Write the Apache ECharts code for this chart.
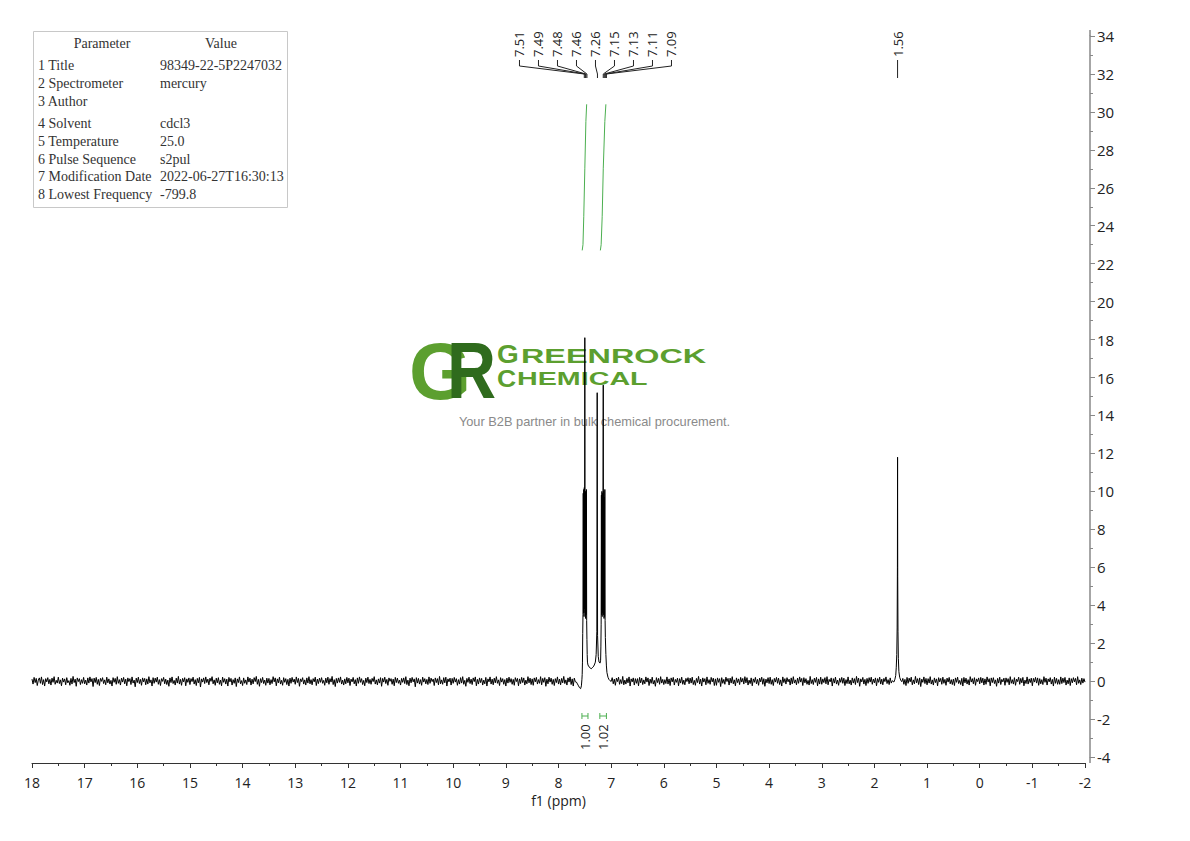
<!DOCTYPE html>
<html>
<head>
<meta charset="utf-8">
<script src="https://cdn.jsdelivr.net/npm/echarts@6/dist/echarts.min.js"></script>
<style>html,body{margin:0;padding:0;background:#fff}#c{width:1190px;height:841px}</style>
</head>
<body>
<div id="c"></div>
<script>
// ---------------- DATA ----------------
const xAxisMinPpm = -2, xAxisMaxPpm = 18;
const yAxisMin = -4, yAxisMax = 34;

// baseline noise sampled on the spectrum grid (integer readings; one unit = noiseUnit intensity)
const noiseStartPpm = 18.0;
const noiseStepPpm = 0.02;
const noiseUnit = 0.013;
const noiseReadings = [
8,-12,15,-6,11,-18,4,13,-9,17,-14,6,-20,10,-3,14,-11,7,-16,12,-5,18,-13,3,-8,
16,-10,5,-19,12,-4,9,-15,14,-7,2,-17,11,-12,19,-6,8,-21,13,-2,10,-14,6,-9,15,
-11,4,-16,13,-8,17,-3,10,-22,12,-6,15,-13,7,-18,11,-1,14,-10,5,-15,16,-7,9,-12,
3,-20,14,-5,11,-13,18,-9,6,-16,12,-4,15,-11,8,-19,13,-2,10,-14,17,-8,4,-23,12,
-6,16,-10,7,-17,13,-3,11,-15,9,-12,18,-7,5,-20,14,-9,12,-4,16,-13,6,-18,10,-1,
15,-11,8,-14,4,-21,13,-6,17,-10,3,-16,12,-8,19,-12,7,-17,11,-3,14,-19,9,-5,13,
-14,10,-2,16,-12,6,-18,11,-7,15,-24,9,-4,13,-10,17,-6,8,-15,12,-1,18,-11,5,-17,
12,-7,14,-13,4,-19,16,-5,10,-12,8,-20,15,-3,11,-16,6,-9,13,-22,9,-6,17,-11,2,
-18,13,-9,5,-14,17,-4,12,-16,8,-11,14,-2,19,-13,7,-21,10,-6,15,-10,4,-17,12,-8,
11,-15,6,-10,18,-3,13,-19,9,-7,16,-12,3,-17,14,-5,10,-14,7,-20,12,-9,15,-4,8,
-13,17,-6,11,-21,9,-2,14,-12,5,-16,13,-8,18,-11,6,-15,10,-3,16,-18,8,-10,12,-5,
14,-9,3,-17,12,-7,16,-13,10,-4,19,-14,6,-22,11,-8,13,-5,17,-12,4,-16,9,-11,15,
-7,12,-18,8,-3,15,-11,6,-20,13,-9,17,-5,10,-14,3,-19,12,-6,16,-10,7,-13,11,-2,
18,-12,5,-15,9,-8,14,-21,11,-4,16,-10,7,-17,13,-1,10,-13,8,-19,15,-6,12,-9,4,
-16,11,-5,13,-10,18,-14,4,-19,12,-7,15,-3,9,-23,14,-8,11,-12,6,-17,16,-4,10,-11,
7,-14,17,-9,12,-2,8,-18,13,-6,10,-15,19,-11,5,-13,14,-7,16,-20,9,-3,12,-16,11,
-9,15,-4,10,-17,6,-12,14,-8,18,-13,3,-21,11,-5,16,-10,8,-14,13,-2,17,-19,7,-12,
13,-6,11,-16,4,-11,15,-20,9,-3,17,-12,8,-15,12,-7,18,-9,5,-18,14,-4,10,-13,6,
-20,12,-8,16,-5,10,-13,7,-17,14,-2,11,-19,9,-10,15,-6,13,-16,4,-11,18,-7,12,-14,
9,-17,13,-3,15,-12,6,-9,18,-15,11,-5,14,-21,8,-11,16,-4,12,-13,7,-18,10,-6,17,
-12,8,-15,11,-7,19,-10,5,-16,13,-4,17,-14,9,-20,12,-3,15,-11,6,-17,14,-8,10,-2,
16,-13,7,-19,10,-5,14,-11,3,-16,12,-9,18,-6,11,-22,13,-4,9,-14,16,-10,5,-18,12,
-5,14,-11,8,-17,12,-2,16,-13,6,-10,19,-15,4,-12,11,-7,17,-20,9,-3,13,-16,10,-9,
10,-19,15,-7,12,-14,5,-11,17,-4,13,-18,8,-9,16,-12,3,-21,14,-6,11,-13,18,-8,7,
-14,6,-10,17,-12,9,-18,13,-3,15,-16,7,-5,12,-19,10,-8,16,-13,4,-15,11,-2,14,-11,
12,-8,16,-14,3,-17,11,-6,19,-12,8,-20,13,-4,10,-15,17,-9,6,-13,15,-3,12,-18,9,
-17,13,-5,10,-22,14,-9,7,-13,16,-2,11,-16,12,-8,18,-11,5,-19,13,-6,9,-14,15,-4,
11,-12,18,-7,14,-16,4,-10,13,-19,9,-5,15,-11,7,-17,12,-3,16,-13,10,-21,8,-7,14,
-10,16,-13,6,-18,11,-4,15,-9,12,-14,5,-20,17,-6,10,-12,14,-3,8,-16,13,-11,18,-8,
5,-15,12,-9,17,-4,11,-18,14,-7,10,-13,3,-16,19,-10,6,-14,12,-5,15,-19,9,-12,16,
-13,9,-6,14,-11,18,-15,7,-3,13,-20,10,-8,16,-12,4,-17,11,-5,15,-9,12,-18,6,-10,
17,-11,4,-16,13,-8,10,-14,19,-6,12,-21,9,-3,15,-12,7,-18,11,-9,14,-4,16,-13,8,
-7,13,-19,10,-5,16,-12,8,-15,11,-2,17,-10,6,-14,13,-8,18,-16,5,-11,14,-6,9,-20,
14,-4,11,-13,7,-18,15,-9,12,-3,16,-15,5,-11,19,-7,10,-14,13,-22,8,-5,17,-10,11,
-15,10,-8,18,-12,5,-16,13,-6,9,-19,14,-3,11,-13,16,-9,7,-17,12,-4,15,-11,6,-14,
8,-18,13,-5,16,-10,3,-14,11,-20,15,-7,12,-12,6,-16,18,-4,10,-11,14,-17,9,-2,13,
-11,15,-7,12,-16,9,-13,17,-4,10,-19,13,-6,14,-10,5,-21,11,-8,16,-14,7,-3,12,-17,
13,-5,10,-15,18,-9,6,-12,14,-17,8,-2,16,-13,11,-7,15,-19,4,-10,17,-12,9,-6,12,
-19,11,-4,15,-8,13,-17,10,-11,6,-14,18,-5,12,-16,9,-3,14,-12,7,-20,16,-9,11,-13,
6,-13,17,-10,12,-6,15,-16,4,-11,13,-18,10,-7,14,-3,11,-15,18,-9,5,-14,12,-8,10,
-4
];

// aromatic multiplets (7.51-7.46, CDCl3 7.26, 7.15-7.09): [ppm, intensity]
const aromaticPeaks = [
[7.66,-0.05],[7.64,-0.15],[7.62,-0.25],[7.60,-0.35],[7.58,-0.40],[7.565,-0.25],[7.555,0.10],[7.55,0.35],
[7.545,1.0],[7.54,2.5],[7.535,3.5],[7.53,9.9],[7.525,3.6],[7.52,10.1],[7.515,3.4],[7.51,10.2],
[7.505,3.8],[7.50,18.1],[7.495,3.6],[7.49,10.0],[7.485,3.3],[7.48,9.8],[7.475,3.5],[7.47,10.1],
[7.465,3.2],[7.46,2.2],[7.455,1.4],[7.45,1.0],[7.44,0.85],[7.42,0.75],[7.40,0.70],[7.38,0.65],
[7.36,0.70],[7.34,0.75],[7.32,0.85],[7.30,1.0],[7.285,1.4],[7.272,2.6],[7.265,15.2],[7.258,2.4],
[7.245,1.3],[7.23,1.0],[7.21,0.95],[7.20,1.1],[7.195,1.8],[7.19,3.0],[7.185,9.8],[7.18,3.5],
[7.175,10.0],[7.17,3.4],[7.165,9.9],[7.16,3.6],[7.15,15.6],[7.145,3.5],[7.14,10.0],[7.135,3.3],
[7.13,9.7],[7.125,3.4],[7.12,10.1],[7.115,3.2],[7.11,2.3],[7.10,1.4],[7.09,0.8],[7.08,0.45],
[7.06,0.2],[7.04,0.08],[7.02,0.02],[7.00,-0.02]
];

// water singlet at 1.56 ppm
const waterPeak = [
[1.66,0.02],[1.63,-0.05],[1.61,0.10],[1.595,0.30],[1.585,0.70],[1.575,1.4],[1.568,2.8],[1.563,6.0],
[1.560,11.8],[1.557,5.5],[1.552,2.6],[1.545,1.2],[1.535,0.5],[1.52,0.2],[1.50,0.05],[1.48,-0.03]
];

// integral curves (green)
const integralCurve1 = [[7.55,22.7],[7.535,23.0],[7.52,24.5],[7.50,27.0],[7.48,29.5],[7.465,30.4]];
const integralCurve2 = [[7.205,22.7],[7.19,23.0],[7.17,24.5],[7.15,27.0],[7.12,29.5],[7.10,30.4]];
const integralRanges = [[7.555,7.44],[7.215,7.09]];
const integralValues = ['1.00','1.02'];

// peak picking labels
const aromaticPeakLabels = ['7.51','7.49','7.48','7.46','7.26','7.15','7.13','7.11','7.09'];
const waterPeakLabels = ['1.56'];

// parameter table
const paramNames = ['1 Title','2 Spectrometer','3 Author','4 Solvent','5 Temperature','6 Pulse Sequence','7 Modification Date','8 Lowest Frequency'];
const paramValues = ['98349-22-5P2247032','mercury','','cdcl3','25.0','s2pul','2022-06-27T16:30:13','-799.8'];

// ---------------- BUILD ----------------
const peakWindows = [aromaticPeaks, waterPeak].map(p => [p[p.length - 1][0], p[0][0]]);
const spectrum = [];
noiseReadings.forEach((v, i) => {
  const x = +(noiseStartPpm - i * noiseStepPpm).toFixed(3);
  if (peakWindows.some(w => x >= w[0] && x <= w[1])) return;
  spectrum.push([x, v * noiseUnit]);
});
aromaticPeaks.forEach(p => spectrum.push(p));
waterPeak.forEach(p => spectrum.push(p));
spectrum.sort((a, b) => b[0] - a[0]);

const FONT = "'Open Sans', 'Noto Sans', sans-serif";
const GREEN = '#4caf50';

const chart = echarts.init(document.getElementById('c'), null, {renderer: 'svg', width: 1190, height: 841});
const option = {
  animation: false,
  backgroundColor: '#ffffff',
  grid: {left: 32, right: 105, top: 36, bottom: 84, containLabel: false, outerBoundsMode: 'none'},
  xAxis: {
    type: 'value', min: xAxisMinPpm, max: xAxisMaxPpm, interval: 1, inverse: true, offset: 6,
    name: 'f1 (ppm)', nameLocation: 'middle', nameGap: 28,
    nameTextStyle: {fontSize: 14, color: '#222', fontFamily: FONT},
    axisLine: {show: true, onZero: false, lineStyle: {color: '#333', width: 1}},
    axisTick: {show: true, inside: false, length: 5, lineStyle: {color: '#333', width: 1}},
    minorTick: {show: true, splitNumber: 2, length: 3, lineStyle: {color: '#333', width: 1}},
    axisLabel: {fontSize: 14, color: '#222', margin: 12, fontFamily: FONT},
    splitLine: {show: false}, minorSplitLine: {show: false}
  },
  yAxis: {
    type: 'value', position: 'right', min: yAxisMin, max: yAxisMax, interval: 2, offset: 5,
    axisLine: {show: true, onZero: false, lineStyle: {color: '#888', width: 1.5}},
    axisTick: {show: true, inside: false, length: 5, lineStyle: {color: '#888', width: 1}},
    minorTick: {show: true, splitNumber: 2, length: 3, lineStyle: {color: '#888', width: 1}},
    axisLabel: {fontSize: 15, color: '#222', margin: 7, fontFamily: FONT},
    splitLine: {show: false}, minorSplitLine: {show: false}
  },
  series: [
    {type: 'line', data: spectrum, showSymbol: false, symbol: 'none', silent: true, z: 5,
     lineStyle: {color: '#000', width: 1}},
    {type: 'line', data: integralCurve1, showSymbol: false, symbol: 'none', silent: true, z: 5,
     lineStyle: {color: GREEN, width: 1}},
    {type: 'line', data: integralCurve2, showSymbol: false, symbol: 'none', silent: true, z: 5,
     lineStyle: {color: GREEN, width: 1}}
  ]
};
chart.setOption(option);

const px = (x, y) => chart.convertToPixel({gridIndex: 0}, [x, y]);
const els = [];

// logo watermark (behind spectrum)
const logoZ = 1;
const LG = '#5c9f2f';
const LF = 'Liberation Sans';
els.push({type: 'text', z: logoZ, x: 409, y: 371, style: {text: 'G', fontSize: 80, lineHeight: 60, fontWeight: 'bold', fontFamily: LF, fill: LG, align: 'left', verticalAlign: 'middle'}});
els.push({type: 'text', z: logoZ, x: 447, y: 371, scaleX: 0.85, style: {text: 'R', fontSize: 80, lineHeight: 60, fontWeight: 'bold', fontFamily: LF, fill: '#2f6b1d', align: 'left', verticalAlign: 'middle'}});
els.push({type: 'text', z: logoZ, x: 497, y: 354.5, scaleX: 1.4, scaleY: 1.3, style: {text: 'G', fontSize: 20, fontFamily: LF, fontWeight: 'bold', fill: LG, align: 'left', verticalAlign: 'middle'}});
els.push({type: 'text', z: logoZ, x: 521, y: 356, scaleX: 1.66, style: {text: 'REENROCK', fontSize: 19.5, fontFamily: LF, fontWeight: 'bold', fill: LG, align: 'left', verticalAlign: 'middle'}});
els.push({type: 'text', z: logoZ, x: 497, y: 378.5, scaleX: 1.4, scaleY: 1.3, style: {text: 'C', fontSize: 19, fontFamily: LF, fontWeight: 'bold', fill: LG, align: 'left', verticalAlign: 'middle'}});
els.push({type: 'text', z: logoZ, x: 517, y: 379, scaleX: 1.64, style: {text: 'HEMICAL', fontSize: 17.5, fontFamily: LF, fontWeight: 'bold', fill: LG, align: 'left', verticalAlign: 'middle'}});
els.push({type: 'text', z: logoZ, x: 594.5, y: 421, style: {text: 'Your B2B partner in bulk chemical procurement.', fontSize: 12.8, fontFamily: LF, fill: '#8a8a8a', align: 'center', verticalAlign: 'middle'}});

// parameter table
els.push({type: 'rect', z: 50, shape: {x: 33.5, y: 31.5, width: 254, height: 176}, style: {fill: '#fff', stroke: '#c8c8c8', lineWidth: 1}});
const TFONT = "'Liberation Serif', serif";
const TSIZE = 14;
els.push({type: 'text', z: 51, x: 102, y: 43, style: {text: 'Parameter', fontSize: TSIZE, fontFamily: TFONT, fill: '#333', align: 'center', verticalAlign: 'middle'}});
els.push({type: 'text', z: 51, x: 221, y: 43, style: {text: 'Value', fontSize: TSIZE, fontFamily: TFONT, fill: '#333', align: 'center', verticalAlign: 'middle'}});
const rowY = [65, 83, 101, 123, 141, 159, 176, 194];
paramNames.forEach((n, i) => {
  els.push({type: 'text', z: 51, x: 38, y: rowY[i], style: {text: n, fontSize: TSIZE, fontFamily: TFONT, fill: '#333', align: 'left', verticalAlign: 'middle'}});
  els.push({type: 'text', z: 51, x: 160, y: rowY[i], style: {text: paramValues[i], fontSize: TSIZE, fontFamily: TFONT, fill: '#333', align: 'left', verticalAlign: 'middle'}});
});

// peak labels with connectors
function addPeakLabels(labels, spacing) {
  const anchors = labels.map(l => px(parseFloat(l), 0)[0]);
  const cx = anchors.reduce((a, b) => a + b, 0) / anchors.length;
  labels.forEach((l, i) => {
    const lx = cx + (i - (labels.length - 1) / 2) * spacing;
    const ax = anchors[i];
    els.push({type: 'text', z: 60, x: lx, y: 57, rotation: Math.PI / 2,
      style: {text: l, fontSize: 13, fontFamily: FONT, fill: '#222', align: 'left', verticalAlign: 'middle'}});
    els.push({type: 'polyline', z: 60, shape: {points: [[lx, 60], [lx, 66], [ax, 74], [ax, 78]]},
      style: {stroke: '#222', lineWidth: 1, fill: null}});
  });
}
addPeakLabels(aromaticPeakLabels, 19);
addPeakLabels(waterPeakLabels, 19);

// integration brackets and values
integralRanges.forEach((r, i) => {
  const x1 = px(r[0], 0)[0], x2 = px(r[1], 0)[0];
  const y = 716;
  els.push({type: 'polyline', z: 60, shape: {points: [[x1, y - 3], [x1, y + 3]]}, style: {stroke: GREEN, lineWidth: 1}});
  els.push({type: 'polyline', z: 60, shape: {points: [[x2, y - 3], [x2, y + 3]]}, style: {stroke: GREEN, lineWidth: 1}});
  els.push({type: 'polyline', z: 60, shape: {points: [[x1, y], [x2, y]]}, style: {stroke: GREEN, lineWidth: 1}});
  els.push({type: 'text', z: 60, x: (x1 + x2) / 2, y: 750, rotation: Math.PI / 2,
    style: {text: integralValues[i], fontSize: 13, fontFamily: FONT, fill: '#222', align: 'left', verticalAlign: 'middle'}});
});

// y axis line extends slightly beyond the tick range
const yTop = px(0, yAxisMax), yBot = px(0, yAxisMin);
const axX = 1090;
els.push({type: 'line', z: 60, shape: {x1: axX, y1: yTop[1] - 6, x2: axX, y2: yTop[1]}, style: {stroke: '#888', lineWidth: 1.5}});
els.push({type: 'line', z: 60, shape: {x1: axX, y1: yBot[1], x2: axX, y2: yBot[1] + 6}, style: {stroke: '#888', lineWidth: 1.5}});

chart.setOption({graphic: {elements: els}});
</script>
</body>
</html>
